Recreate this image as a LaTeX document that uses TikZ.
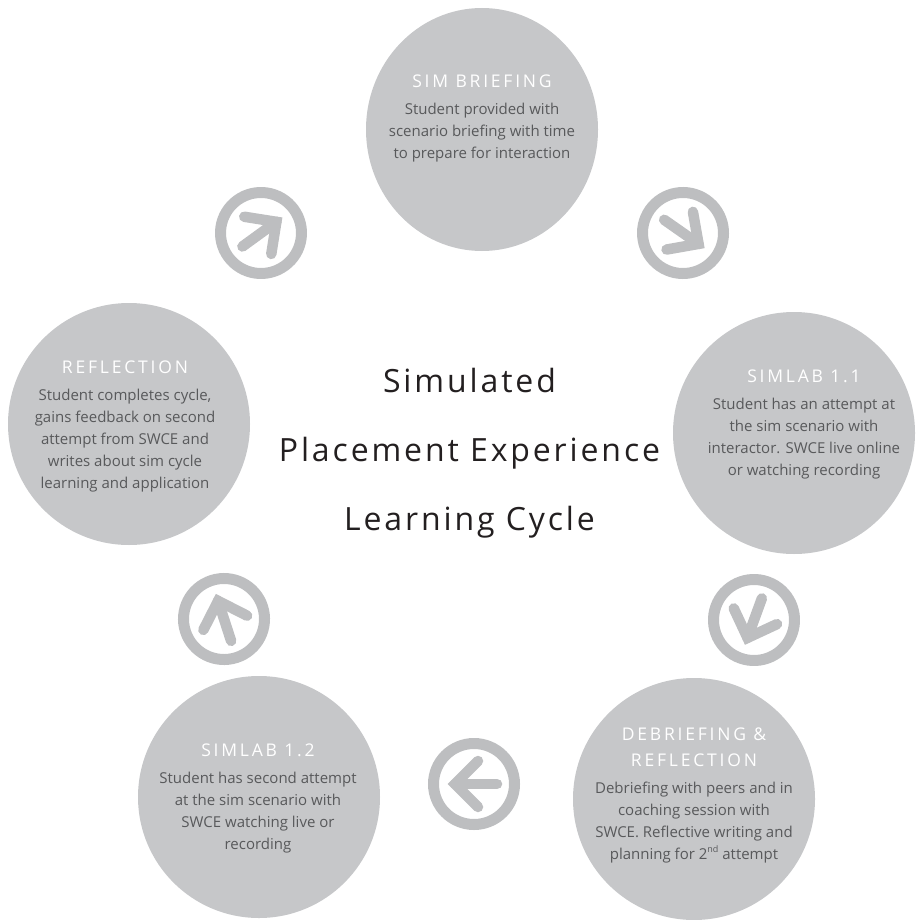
\documentclass[tikz,border=0pt]{standalone}
\usepackage{fontspec}
\setmainfont{Open Sans}
\usetikzlibrary{shapes.geometric}
\definecolor{disc}{HTML}{C6C7C9}
\definecolor{icon}{HTML}{BDBEC0}
\definecolor{bodytxt}{HTML}{58595B}
\definecolor{titletxt}{HTML}{231F20}
\tikzset{
  x=1pt,y=-1pt,
  stage/.style={ellipse,fill=disc,inner sep=0pt,minimum width=242pt,minimum height=242pt},
  stagetext/.style={inner sep=0pt,align=center,text=bodytxt,font=\fontsize{15}{22}\selectfont},
  cycleicon/.pic={
    \draw[icon,line width=11pt] (0,0) circle[radius=40.5pt];
    \draw[icon,line width=10.5pt,line cap=round] (-23,0) -- (19,0);
    \draw[icon,line width=10.5pt,line cap=round,line join=miter,miter limit=10] (-4,-23) -- (19,0) -- (-4,23);
  }
}
\newcommand{\hd}[1]{{\color{white}\addfontfeature{LetterSpace=16}\fontsize{17.5}{22}\selectfont #1}}
\newcommand{\sups}[1]{\raisebox{6.5pt}{\fontsize{9}{9}\selectfont #1}}
\begin{document}
\begin{tikzpicture}
\useasboundingbox (0,0) rectangle (915,920);
\node[stage,minimum width=232pt,minimum height=243pt] (brief) at (482,129.5) {};
\node[stage] (lab1) at (794,433) {};
\node[stage] (debrief) at (694,799) {};
\node[stage] (lab2) at (259,797) {};
\node[stage] (reflect) at (129,424) {};
\node[stagetext] (brieft) at (482,118) {\hd{SIM BRIEFING}\\[5pt]Student provided with\\scenario briefing with time\\to prepare for interaction};
\node[stagetext] (lab1t) at (804,424.5) {\hd{SIMLAB 1.1}\\[5pt]Student has an attempt at\\the sim scenario with\\interactor. SWCE live online\\or watching recording};
\node[stagetext] (debrieft) at (694,795) {\hd{DEBRIEFING \&}\\[4pt]\hd{REFLECTION}\\[5pt]Debriefing with peers and in\\coaching session with\\SWCE. Reflective writing and\\planning for 2\sups{nd} attempt};
\node[stagetext] (lab2t) at (258,798) {\hd{SIMLAB 1.2}\\[5pt]Student has second attempt\\at the sim scenario with\\SWCE watching live or\\recording};
\node[stagetext] (reflectt) at (125,426) {\hd{REFLECTION}\\[5pt]Student completes cycle,\\gains feedback on second\\attempt from SWCE and\\writes about sim cycle\\learning and application};
\node[align=center,text=titletxt,font=\addfontfeature{LetterSpace=9}\fontsize{32}{69}\selectfont] (title) at (469.5,453) {Simulated\\Placement Experience\\Learning Cycle};
\pic[rotate=-35] at (683,233) {cycleicon};
\pic[rotate=-110] at (754,620) {cycleicon};
\pic[rotate=180] at (474,784) {cycleicon};
\pic[rotate=108] at (224,619) {cycleicon};
\pic[rotate=36] at (261,233) {cycleicon};
\end{tikzpicture}
\end{document}
